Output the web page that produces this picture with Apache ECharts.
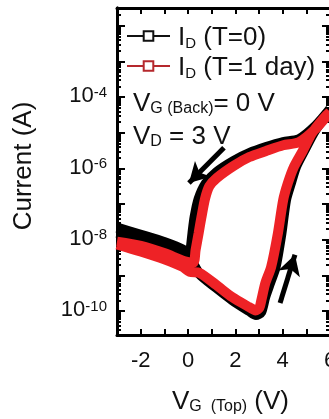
<!DOCTYPE html>
<html>
<head>
<meta charset="utf-8">
<script src="https://cdn.jsdelivr.net/npm/echarts@6/dist/echarts.min.js"></script>
<style>
  html, body { margin: 0; padding: 0; background: #fff; }
  #chart { width: 329px; height: 419px; }
</style>
</head>
<body>
<div id="chart"></div>
<script>
// gate voltage V_G(Top) in V and log10 of drain current (A), forward sweep then reverse sweep
var t0Volt = [-3.0, -2.0, -1.0, -0.14, 0.15, 0.49, 1.2, 1.87, 2.59, 2.87, 3.09, 3.26, 3.47, 3.7, 3.95, 4.14, 4.35, 4.56, 4.92, 5.3, 5.72, 6.0,
              5.4, 4.69, 4.02, 3.3, 2.59, 1.92, 1.21, 0.75, 0.45, 0.28, 0.19, 0.11, 0.07, -0.14, -0.98, -1.99, -3.0];
var t0LogI = [-7.80, -8.00, -8.22, -8.45, -8.60, -8.96, -9.35, -9.69, -10.0, -10.11, -10.03, -9.61, -9.21, -8.77, -7.81, -6.89, -6.41, -5.96, -5.49, -5.01, -4.59, -4.34,
              -4.80, -5.18, -5.26, -5.40, -5.57, -5.79, -6.10, -6.42, -6.85, -7.36, -7.81, -8.29, -8.47, -8.30, -8.07, -7.86, -7.66];
var t1Volt = [-3.0, -2.0, -1.0, -0.23, 0.07, 0.49, 1.2, 1.87, 2.59, 2.85, 3.02, 3.1, 3.27, 3.51, 3.8, 4.02, 4.22, 4.47, 4.86, 5.24, 5.7, 6.0,
              5.4, 4.69, 4.02, 3.3, 2.59, 1.92, 1.21, 0.9, 0.72, 0.57, 0.45, 0.32, 0.23, -0.14, -0.98, -1.99, -3.0];
var t1LogI = [-8.13, -8.33, -8.55, -8.76, -8.90, -8.93, -9.27, -9.61, -9.89, -9.98, -9.90, -9.69, -9.21, -8.77, -7.81, -6.89, -6.41, -5.96, -5.49, -5.01, -4.62, -4.42,
              -4.88, -5.26, -5.35, -5.51, -5.68, -5.93, -6.27, -6.5, -6.85, -7.36, -7.81, -8.29, -8.63, -8.60, -8.38, -8.17, -8.05];
var xLabels = [-2, 0, 2, 4, 6];
var yLabels = [-10, -8, -6, -4];
var seriesNames = ['I_D (T=0)', 'I_D (T=1 day)'];

var FONT = "'Liberation Sans', Arial, sans-serif";

function pairs(xs, ys) {
  return xs.map(function (x, i) { return [x, ys[i]]; });
}

// decade ticks and log minor ticks
var majorTicks = [], minorTicks = [];
for (var n = -11; n <= -2; n++) {
  if (n >= -10.67) majorTicks.push(n);
  for (var k = 2; k <= 9; k++) {
    var v = n + Math.log10(k);
    if (v > -10.67 && v < -1.5) minorTicks.push(v);
  }
}

var myChart = echarts.init(document.getElementById('chart'), null, { renderer: 'canvas' });

function yAx(pos, ticks, len, labels) {
  return {
    type: 'value', position: pos, min: -10.67, max: -1.5,
    axisLine: { show: true, onZero: false, lineStyle: { color: '#000', width: 3 } },
    axisTick: { show: true, inside: true, length: len, customValues: ticks, lineStyle: { color: '#000', width: 2 } },
    axisLabel: labels ? {
      show: true, margin: 10, customValues: yLabels,
      formatter: function (v) { return '{b|10}{s|' + v + '}'; },
      rich: {
        b: { fontFamily: FONT, fontSize: 22, color: '#111', lineHeight: 24, verticalAlign: 'top' },
        s: { fontFamily: FONT, fontSize: 15, color: '#111', lineHeight: 16, verticalAlign: 'top' }
      }
    } : { show: false },
    splitLine: { show: false }
  };
}

function xAx(pos, labels) {
  return {
    type: 'value', position: pos, min: -3, max: 6, interval: 1,
    axisLine: { show: true, onZero: false, lineStyle: { color: '#000', width: 3 } },
    axisTick: { show: true, inside: true, length: 6, lineStyle: { color: '#000', width: 2 } },
    axisLabel: labels ? {
      show: true, margin: 15, customValues: xLabels,
      fontFamily: FONT, fontSize: 22, color: '#111'
    } : { show: false },
    splitLine: { show: false }
  };
}

// main text + subscript, both bottom aligned; sub offset = (mainLH - subLH) / 2
function subRich(subLH) {
  return {
    m: { fontFamily: FONT, fontSize: 26, fill: '#111', color: '#111', lineHeight: 40, verticalAlign: 'bottom' },
    s: { fontFamily: FONT, fontSize: 16, fill: '#111', color: '#111', lineHeight: subLH, verticalAlign: 'bottom' }
  };
}

var legendRich = {
  i: { fontFamily: FONT, fontSize: 26, color: '#111', lineHeight: 30, verticalAlign: 'bottom', padding: [0, 0, 0, 3] },
  m: { fontFamily: FONT, fontSize: 26, color: '#111', lineHeight: 30, verticalAlign: 'bottom' },
  s: { fontFamily: FONT, fontSize: 15, color: '#111', lineHeight: 14, verticalAlign: 'bottom' }
};

myChart.setOption({
  animation: false,
  backgroundColor: '#fff',
  grid: { left: 117, top: 8, width: 213, height: 327, containLabel: false, outerBoundsMode: 'none' },
  xAxis: [xAx('bottom', true), xAx('top', false)],
  yAxis: [yAx('left', majorTicks, 8, true), yAx('left', minorTicks, 4, false),
          yAx('right', majorTicks, 8, false), yAx('right', minorTicks, 4, false)],
  legend: {
    orient: 'vertical', left: 126, top: 25, padding: 0, itemWidth: 43, itemHeight: 12, itemGap: 4,
    data: [
      { name: seriesNames[0], itemStyle: { color: '#fff', borderColor: '#111', borderWidth: 2 }, lineStyle: { color: '#111', width: 2 } },
      { name: seriesNames[1], itemStyle: { color: '#fff', borderColor: '#b5282d', borderWidth: 2 }, lineStyle: { color: '#b5282d', width: 2 } }
    ],
    formatter: function (name) {
      return name === seriesNames[0] ? '{i|I}{s|D}{m| (T=0)}' : '{i|I}{s|D}{m| (T=1 day)}';
    },
    textStyle: { rich: legendRich }
  },
  series: [
    {
      name: seriesNames[0], type: 'line', data: pairs(t0Volt, t0LogI),
      symbol: 'rect', showSymbol: false, smooth: 0.25,
      lineStyle: { color: '#000', width: 10 }, itemStyle: { color: '#000' },
      markLine: {
        silent: true, symbol: ['none', 'arrow'], symbolSize: [17, 20],
        label: { show: false },
        lineStyle: { color: '#000', width: 5, type: 'solid' },
        data: [
          [{ coord: [1.52, -5.42] }, { coord: [0.04, -6.41] }],
          [{ coord: [3.89, -9.77] }, { coord: [4.52, -8.42] }]
        ]
      }
    },
    {
      name: seriesNames[1], type: 'line', data: pairs(t1Volt, t1LogI),
      symbol: 'rect', showSymbol: false, smooth: 0.25,
      lineStyle: { color: '#ee2226', width: 10 }, itemStyle: { color: '#ee2226' }
    }
  ],
  graphic: [
    {
      type: 'text', x: 24, y: 166, rotation: Math.PI / 2,
      style: { text: 'Current (A)', fontFamily: FONT, fontSize: 26, fill: '#111', align: 'center', verticalAlign: 'middle' }
    },
    {
      type: 'text', x: 133, y: 77,
      style: { text: '{m|V}{s|G (Back)}{m|= 0 V}', verticalAlign: 'top', rich: subRich(14) }
    },
    {
      type: 'text', x: 133, y: 110,
      style: { text: '{m|V}{s|D}{m| = 3 V}', verticalAlign: 'top', rich: subRich(16) }
    },
    {
      type: 'text', x: 172, y: 375,
      style: { text: '{m|V}{s|G  (Top)}{m| (V)}', verticalAlign: 'top', rich: subRich(24) }
    }
  ]
});
</script>
</body>
</html>
